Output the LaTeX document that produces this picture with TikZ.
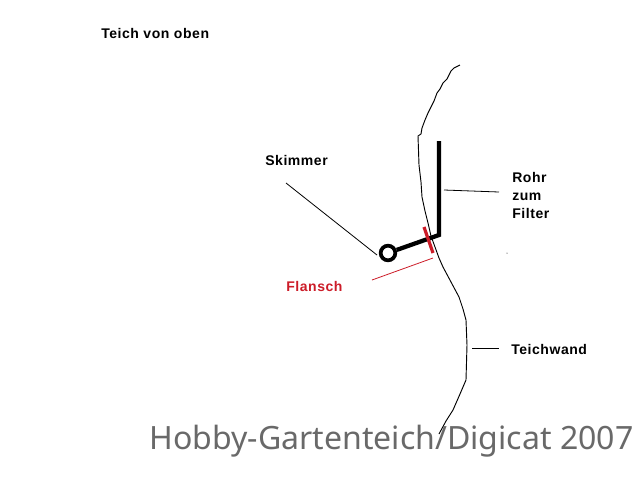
\documentclass[tikz,border=0pt]{standalone}
\usepackage{fontspec}
\setmainfont{Liberation Sans}[LetterSpace=4]
\newfontfamily\markfont{Noto Sans}
\usetikzlibrary{positioning}
\definecolor{flanschred}{RGB}{204,28,40}
\definecolor{markgray}{RGB}{105,105,105}
\begin{document}
\begin{tikzpicture}[x=0.75pt,y=-0.75pt]

    \tikzstyle{commonLabel}=[font=\fontsize{10.5}{13.5}\selectfont\bfseries, align=left, inner sep=0pt]
    \tikzstyle{redLabel}=[commonLabel, text=flanschred]
    \tikzstyle{leader}=[black, line width=0.6pt]
    \tikzstyle{wall}=[black, line width=0.7pt]
    \tikzstyle{pipe}=[black, line width=3.2pt, line join=miter]

    \useasboundingbox (0,0) rectangle (640,480);

    % Labels
    \node at (101,33.5) [commonLabel, anchor=west] (title)    {Teich von oben};
    \node at (265,160.5) [commonLabel, anchor=west] (skimmer) {Skimmer};
    \node at (512,195.5) [commonLabel, anchor=west] (rohr)    {Rohr \\ zum \\ Filter};
    \node at (286,286.5) [redLabel, anchor=west]    (flansch) {Flansch};
    \node at (511,349.5) [commonLabel, anchor=west] (wand)    {Teichwand};
    \node at (391.5,441.5) [font=\markfont\fontsize{24.05}{28}\selectfont, text=markgray, inner sep=0pt] (mark) {Hobby-Gartenteich/Digicat 2007};

    % Pond wall
    \draw[wall] (460,65) -- (454,68) -- (451,71) -- (447,79) -- (443,83) -- (440,89)
        -- (437,93) -- (434,101) -- (431,107) -- (428,113) -- (425,120) -- (422,128)
        -- (421,134) -- (418,136) -- (419,165) -- (421,182) -- (422,197) -- (425,211)
        -- (428,223) -- (431,236) -- (435,247) -- (439,258) -- (443,267) -- (451,282)
        -- (459,297) -- (463,309) -- (466,320) -- (467,345) -- (466,380) -- (460,394)
        -- (453,410) -- (446,421) -- (439,434);

    % Pipe
    \node at (388,253) [circle, draw=black, line width=2.8pt, minimum size=11pt, inner sep=0pt] (ring) {};
    \coordinate (pipeTop) at (439,141);
    \coordinate (pipeBend) at (439,235);
    \draw[pipe] (pipeTop) -- (pipeBend) -- (ring);

    % Flange
    \coordinate (flangeA) at (424,227);
    \coordinate (flangeB) at (433,253);
    \draw[flanschred, line width=2.4pt] (flangeA) -- (flangeB);

    % Leaders
    \coordinate (skimA) at (286,183);
    \coordinate (skimB) at (377,255);
    \coordinate (rohrA) at (444,190);
    \coordinate (rohrB) at (499,192);
    \coordinate (flanschA) at (372,280);
    \coordinate (flanschB) at (433,258);
    \coordinate (wandA) at (472,348);
    \coordinate (wandB) at (499,348);
    \draw[leader] (skimA) -- (skimB);
    \draw[leader] (rohrA) -- (rohrB);
    \draw[leader, flanschred] (flanschA) -- (flanschB);
    \draw[leader] (wandA) -- (wandB);

    % Stray dot
    \fill[black] (507,253) circle (0.5);
\end{tikzpicture}
\end{document}
